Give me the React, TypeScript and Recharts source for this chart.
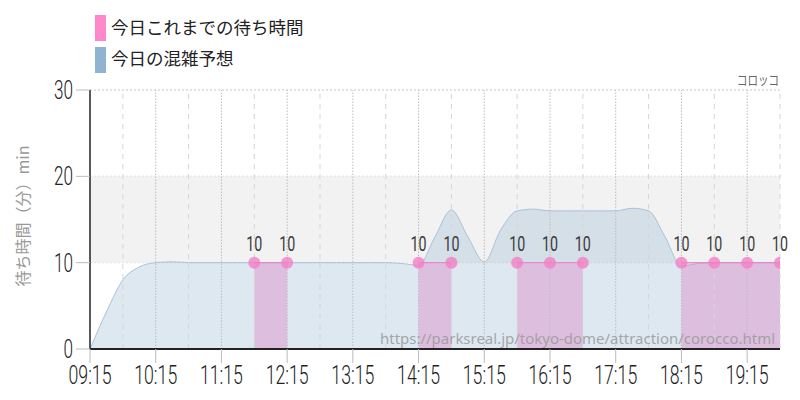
import React from "react";
import {
  AreaChart,
  Area,
  XAxis,
  YAxis,
  CartesianGrid,
  ReferenceArea,
  ReferenceLine,
} from "recharts";

const forecastTimes = [
  "09:15", "09:30", "09:45", "10:00", "10:15", "10:30", "10:45", "11:00",
  "11:15", "11:30", "11:45", "12:00", "12:15", "12:30", "12:45", "13:00",
  "13:15", "13:30", "13:45", "14:00", "14:15", "14:30", "14:45", "15:00",
  "15:15", "15:30", "15:45", "16:00", "16:15", "16:30", "16:45", "17:00",
  "17:15", "17:30", "17:45", "18:00", "18:15", "18:30", "18:45", "19:00",
  "19:15", "19:30", "19:45",
];
const forecastValues = [
  0, 4.3, 8, 9.5, 10, 10.1, 10, 10,
  10, 10, 10, 10, 10, 10, 10, 10,
  10, 10, 10, 9.9, 9.7, 13, 16.1, 13,
  10.1, 13.8, 16, 16.2, 16, 16, 16, 16,
  16, 16.3, 16, 13, 9.6, 9.9, 10, 10,
  10, 10, 10,
];

const actualTimes = [
  "11:45", "12:15", "12:45", "13:15", "13:45", "14:15", "14:45", "15:15",
  "15:45", "16:15", "16:45", "17:15", "17:45", "18:15", "18:45", "19:15",
  "19:45",
];
const actualValues: (number | null)[] = [
  10, 10, null, null, null, 10, 10, null,
  10, 10, 10, null, null, 10, 10, 10,
  10,
];

const hourTicks = [
  "09:15", "10:15", "11:15", "12:15", "13:15", "14:15",
  "15:15", "16:15", "17:15", "18:15", "19:15",
];
const gridTimes = [
  "09:45", "10:15", "10:45", "11:15", "11:45", "12:15", "12:45", "13:15",
  "13:45", "14:15", "14:45", "15:15", "15:45", "16:15", "16:45", "17:15",
  "17:45", "18:15", "18:45", "19:15", "19:45",
];
const yTicks = [0, 10, 20, 30];

const PINK = "#ff88cc";
const BLUE = "#8fb3d0";
const NUM_FONT = "Roboto, 'Liberation Sans', sans-serif";
const JP_FONT = "'Noto Sans CJK JP', 'Noto Sans', sans-serif";

const toMin = (s: string) => {
  const [h, m] = s.split(":").map(Number);
  return h * 60 + m;
};
const fmt = (v: number) =>
  `${String(Math.floor(v / 60)).padStart(2, "0")}:${String(v % 60).padStart(2, "0")}`;

const forecastRows = forecastTimes.map((t, i) => ({ t: toMin(t), forecast: forecastValues[i] }));
const actualRows = actualTimes.map((t, i) => ({ t: toMin(t), actual: actualValues[i] }));

function XTick(props: any) {
  const { x, y, payload } = props;
  return (
    <text
      x={x}
      y={y}
      dy={19}
      textAnchor="middle"
      fontFamily={NUM_FONT}
      fontSize={25}
      fontWeight={300}
      fill="#222"
      textLength={43}
      lengthAdjust="spacingAndGlyphs"
    >
      {fmt(payload.value)}
    </text>
  );
}

function YTick(props: any) {
  const { x, y, payload } = props;
  const s = String(payload.value);
  return (
    <text
      x={x}
      y={y}
      dy={9}
      textAnchor="end"
      fontFamily={NUM_FONT}
      fontSize={25}
      fontWeight={300}
      fill="#222"
      textLength={s.length * 9.5}
      lengthAdjust="spacingAndGlyphs"
    >
      {s}
    </text>
  );
}

function ActualDot(props: any) {
  const { cx, cy, value, index } = props;
  const v = Array.isArray(value) ? value[1] : value;
  if (v == null || cy == null) return <g key={`d${index}`} />;
  return <circle key={`d${index}`} cx={cx} cy={cy} r={6} fill="#f27fc4" fillOpacity={0.8} />;
}

function ActualLabel(props: any) {
  const { x, y, value, index } = props;
  if (value == null || y == null) return <g key={`l${index}`} />;
  return (
    <text
      key={`l${index}`}
      x={x}
      y={y}
      dy={-12}
      textAnchor="middle"
      fontFamily={NUM_FONT}
      fontSize={20}
      fontWeight={400}
      stroke="none"
      style={{ fill: "#3a3a3a" }}
      textLength={16}
      lengthAdjust="spacingAndGlyphs"
    >
      {value}
    </text>
  );
}

export default function App() {
  return (
    <div style={{ position: "absolute", left: 0, top: 0, width: 800, height: 400, background: "#fff" }}>
      <AreaChart width={800} height={400} data={forecastRows} margin={{ top: 90, right: 20, bottom: 0, left: 0 }}>
        <ReferenceArea y1={10} y2={20} fill="#f2f2f2" fillOpacity={1} stroke="none" zIndex={-60} />
        <CartesianGrid vertical={false} stroke="#c4c4c4" strokeDasharray="2 2" />
        <XAxis
          dataKey="t"
          type="number"
          domain={[toMin("09:15"), toMin("19:45")]}
          ticks={hourTicks.map(toMin)}
          allowDataOverflow
          height={51}
          tickSize={14}
          tickMargin={2}
          tickLine={{ stroke: "#bbb" }}
          axisLine={{ stroke: "#222", strokeWidth: 2 }}
          tick={<XTick />}
        />
        <YAxis
          domain={[0, 30]}
          ticks={yTicks}
          width={90}
          tickSize={14}
          tickMargin={3}
          tickLine={{ stroke: "#bbb" }}
          axisLine={{ stroke: "#222", strokeWidth: 1.5 }}
          tick={<YTick />}
        />
        {gridTimes.map((t) => (
          <ReferenceLine
            key={t}
            x={toMin(t)}
            stroke={t.endsWith(":15") ? "#bdbdbd" : "#d6d6d6"}
            strokeDasharray={t.endsWith(":15") ? "1.5 1.5" : "5 5"}
          />
        ))}
        <Area
          type="monotone"
          dataKey="forecast"
          stroke="#a8c2d9"
          strokeWidth={1}
          fill={BLUE}
          fillOpacity={0.3}
          dot={false}
          activeDot={false}
          isAnimationActive={false}
        />
        <Area
          data={actualRows}
          type="linear"
          dataKey="actual"
          stroke="#e57fc6"
          strokeWidth={1}
          fill="#e080c4"
          fillOpacity={0.4}
          connectNulls={false}
          dot={ActualDot}
          activeDot={false}
          label={ActualLabel}
          isAnimationActive={false}
        />
      </AreaChart>
      <svg
        width={800}
        height={400}
        style={{ position: "absolute", left: 0, top: 0, pointerEvents: "none" }}
      >
        <rect x={95} y={15} width={11} height={26} fill={PINK} />
        <text x={111} y={34} fontFamily={JP_FONT} fontSize={17.5} fill="#222">
          今日これまでの待ち時間
        </text>
        <rect x={95} y={47} width={11} height={26} fill={BLUE} />
        <text x={111} y={65} fontFamily={JP_FONT} fontSize={17.5} fill="#222">
          今日の混雑予想
        </text>
        <text
          x={779}
          y={85}
          textAnchor="end"
          fontFamily={JP_FONT}
          fontSize={14}
          fill="#666"
          textLength={42}
          lengthAdjust="spacingAndGlyphs"
        >
          コロッコ
        </text>
        <text
          x={22}
          y={216}
          transform="rotate(-90 22 216)"
          textAnchor="middle"
          dominantBaseline="central"
          fontFamily={JP_FONT}
          fontSize={16}
          fill="#999"
        >
          待ち時間（分）min
        </text>
        <text
          x={380}
          y={344}
          fontFamily="'Noto Sans', sans-serif"
          fontSize={15}
          fill="#999"
          fillOpacity={0.85}
          textLength={395}
          lengthAdjust="spacingAndGlyphs"
        >
          https://parksreal.jp/tokyo-dome/attraction/corocco.html
        </text>
      </svg>
    </div>
  );
}
